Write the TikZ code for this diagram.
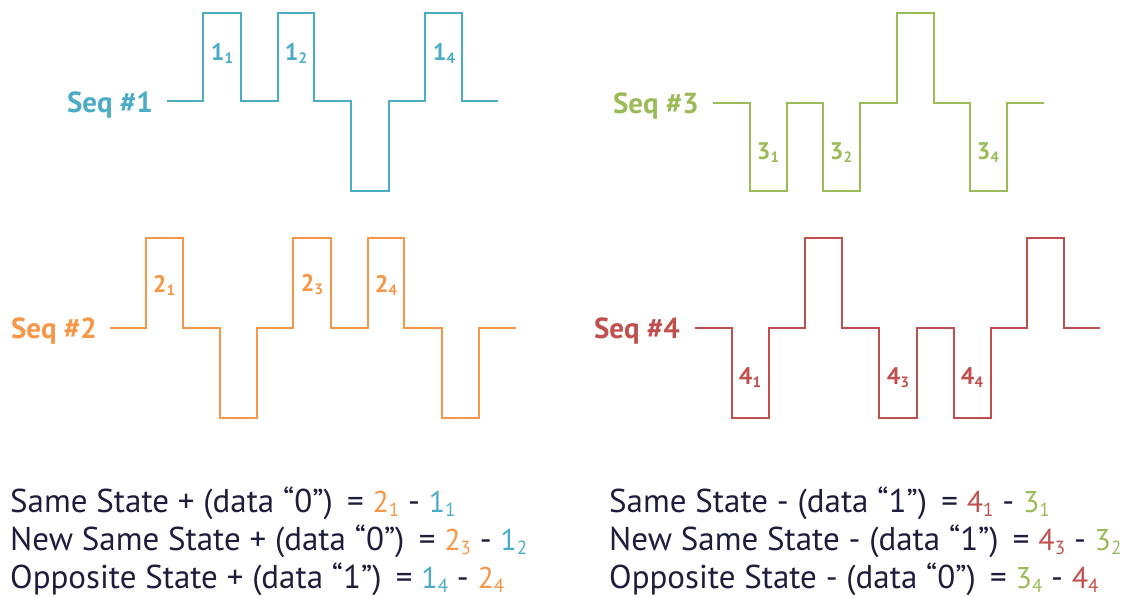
\documentclass[tikz,border=0pt]{standalone}
\usepackage{fontspec}
\setmainfont{PT Sans}
\definecolor{sblue}{HTML}{4BACC6}
\definecolor{sgreen}{HTML}{9BBB59}
\definecolor{sorange}{HTML}{F79646}
\definecolor{sred}{HTML}{C0504D}
\definecolor{snavy}{HTML}{1E1E3C}
\tikzset{
  wave/.style={line width=2.4pt, line join=miter},
  seqlabel/.style={font=\fontsize{29}{32}\selectfont\bfseries, anchor=base east, inner sep=0pt},
  plabel/.style={font=\fontsize{24}{26}\selectfont\bfseries, inner sep=0pt},
  eqline/.style={font=\fontsize{33}{38}\selectfont, text=snavy, anchor=base west, inner sep=0pt},
}
\newcommand{\pl}[2]{#1\raisebox{-3pt}{\fontsize{15}{15}\selectfont #2}}
\newcommand{\eqp}[3]{{\color{#1}\fontsize{30}{30}\selectfont #2\raisebox{-4pt}{\fontsize{19}{19}\selectfont #3}}}
\begin{document}
\begin{tikzpicture}[x=1pt,y=-1pt]
\useasboundingbox (0,0) rectangle (1134,597);
% Seq 1
\node[seqlabel, text=sblue] (s1) at (153,112) {Seq \#1};
\draw[wave, sblue] (167,101) -- (203,101) -- (203,13) -- (241,13) -- (241,101) -- (278,101) -- (278,13) -- (314,13) -- (314,101) -- (351,101) -- (351,191) -- (389,191) -- (389,101) -- (425,101) -- (425,13) -- (462,13) -- (462,101) -- (498,101);
\node[plabel, text=sblue] (l11) at (222,53) {\pl{1}{1}};
\node[plabel, text=sblue] (l12) at (296,53) {\pl{1}{2}};
\node[plabel, text=sblue] (l14) at (444,53) {\pl{1}{4}};
% Seq 3
\node[seqlabel, text=sgreen] (s3) at (699,113) {Seq \#3};
\draw[wave, sgreen] (713,103) -- (750,103) -- (750,191) -- (787,191) -- (787,103) -- (823,103) -- (823,191) -- (860,191) -- (860,103) -- (897,103) -- (897,13) -- (934,13) -- (934,103) -- (970,103) -- (970,191) -- (1007,191) -- (1007,103) -- (1044,103);
\node[plabel, text=sgreen] (l31) at (768,153) {\pl{3}{1}};
\node[plabel, text=sgreen] (l32) at (841,153) {\pl{3}{2}};
\node[plabel, text=sgreen] (l34) at (988,153) {\pl{3}{4}};
% Seq 2
\node[seqlabel, text=sorange] (s2) at (97,338) {Seq \#2};
\draw[wave, sorange] (110,328) -- (146,328) -- (146,238) -- (183,238) -- (183,328) -- (220,328) -- (220,418) -- (257,418) -- (257,328) -- (293,328) -- (293,238) -- (331,238) -- (331,328) -- (368,328) -- (368,238) -- (404,238) -- (404,328) -- (442,328) -- (442,418) -- (479,418) -- (479,328) -- (516,328);
\node[plabel, text=sorange] (l21) at (164,285) {\pl{2}{1}};
\node[plabel, text=sorange] (l23) at (312,285) {\pl{2}{3}};
\node[plabel, text=sorange] (l24) at (386,285) {\pl{2}{4}};
% Seq 4
\node[seqlabel, text=sred] (s4) at (680,338) {Seq \#4};
\draw[wave, sred] (695,328) -- (732,328) -- (732,418) -- (769,418) -- (769,328) -- (805,328) -- (805,238) -- (842,238) -- (842,328) -- (879,328) -- (879,418) -- (917,418) -- (917,328) -- (954,328) -- (954,418) -- (991,418) -- (991,328) -- (1027,328) -- (1027,238) -- (1064,238) -- (1064,328) -- (1100,328);
\node[plabel, text=sred] (l41) at (750,378) {\pl{4}{1}};
\node[plabel, text=sred] (l43) at (898,378) {\pl{4}{3}};
\node[plabel, text=sred] (l44) at (972,378) {\pl{4}{4}};
% Equations
\node[eqline] (e1) at (10,512) {Same State + (data “0”)\ \,= \eqp{sorange}{2}{1} - \eqp{sblue}{1}{1}};
\node[eqline] (e2) at (10,550) {New Same State + (data “0”)\ \,= \eqp{sorange}{2}{3} - \eqp{sblue}{1}{2}};
\node[eqline] (e3) at (10,588) {Opposite State + (data “1”)\ \,= \eqp{sblue}{1}{4} - \eqp{sorange}{2}{4}};
\node[eqline] (e4) at (609,512) {Same State - (data “1”)\ \,= \eqp{sred}{4}{1} - \eqp{sgreen}{3}{1}};
\node[eqline] (e5) at (609,550) {New Same State - (data “1”)\ \,= \eqp{sred}{4}{3} - \eqp{sgreen}{3}{2}};
\node[eqline] (e6) at (609,588) {Opposite State - (data “0”)\ \,= \eqp{sgreen}{3}{4} - \eqp{sred}{4}{4}};
\end{tikzpicture}
\end{document}
